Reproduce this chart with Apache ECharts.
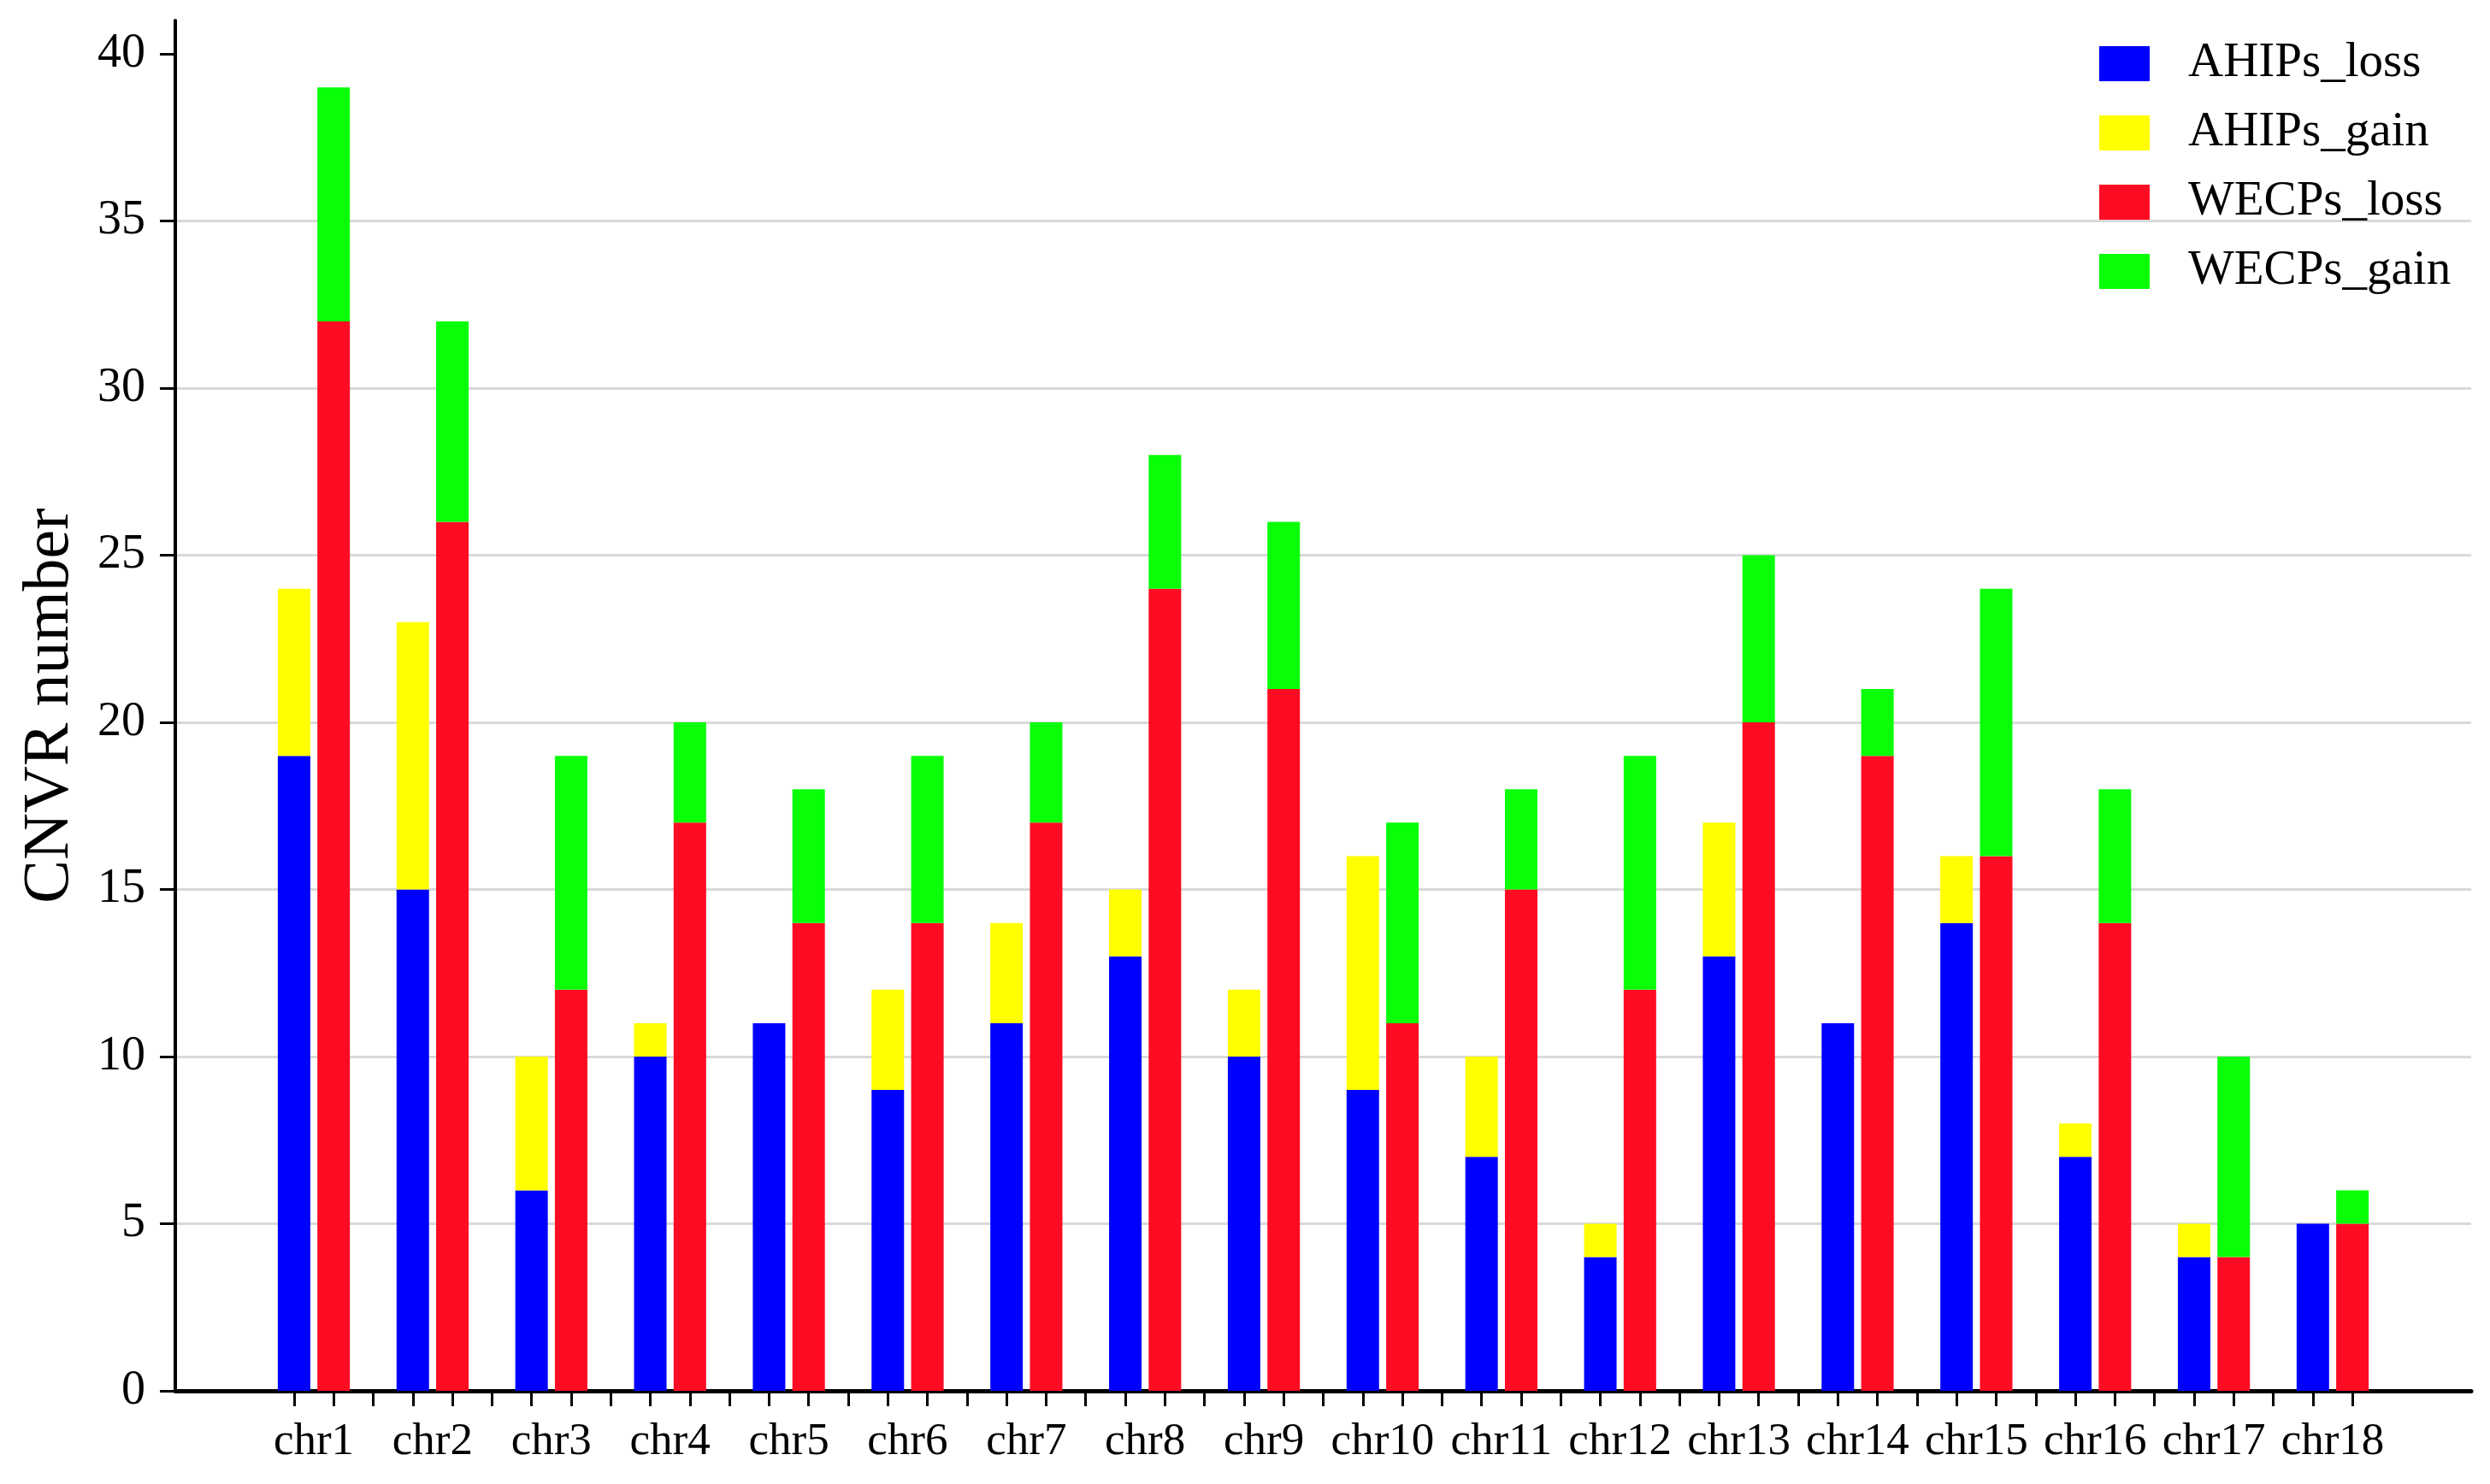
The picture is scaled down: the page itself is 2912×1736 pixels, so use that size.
<!DOCTYPE html>
<html><head><meta charset="utf-8">
<script src="https://cdn.jsdelivr.net/npm/echarts@6/dist/echarts.min.js"></script>
<style>html,body{margin:0;padding:0;background:#fff}#c{width:2912px;height:1736px}</style>
</head><body><div id="c"></div>
<script>
// ---- data ----
const categories = ['chr1','chr2','chr3','chr4','chr5','chr6','chr7','chr8','chr9','chr10','chr11','chr12','chr13','chr14','chr15','chr16','chr17','chr18'];
const ahipsLoss = [19,15,6,10,11,9,11,13,10,9,7,4,13,11,14,7,4,5];
const ahipsGain = [5,8,4,1,0,3,3,2,2,7,3,1,4,0,2,1,1,0];
const wecpsLoss = [32,26,12,17,14,14,17,24,21,11,15,12,20,19,16,14,4,5];
const wecpsGain = [7,6,7,3,4,5,3,4,5,6,3,7,5,2,8,4,6,1];
const yTicks = [0,5,10,15,20,25,30,35,40];
const seriesNames = ['AHIPs_loss','AHIPs_gain','WECPs_loss','WECPs_gain'];

// ---- layout (slot units on the x axis) ----
const FIRST = 3, STEP = 3, XMAX = 58;
const posA = i => FIRST + STEP * i;
const posW = i => FIRST + STEP * i + 1;
const FONT = 'Liberation Serif';

const tickVals = [];
for (let v = posA(0); v <= posW(categories.length - 1); v++) tickVals.push(v);
const labelVals = categories.map((c, i) => posA(i) + 0.5);

// value first so that the stack is computed on the value dimension
const mk = (arr, pos) => arr.map((v, i) => [v, pos(i)]);
const colors = ['#0000ff', '#ffff00', '#ff0b24', '#08ff08'];
const common = {
  type: 'bar', barWidth: 38, barGap: '-100%',
  dimensions: [{ name: 'v', type: 'float' }, { name: 'pos', type: 'float' }],
  encode: { x: 'pos', y: 'v' }
};

const option = {
  animation: false,
  backgroundColor: '#ffffff',
  grid: { left: 205, right: 22, top: 24, bottom: 109, containLabel: false },
  legend: {
    orient: 'vertical', left: 2450, top: 41,
    itemWidth: 59, itemHeight: 41, itemGap: 24, icon: 'rect',
    data: seriesNames,
    formatter: '{a|{name}}',
    textStyle: { rich: { a: { fontSize: 57, fontFamily: FONT, color: '#000', padding: [0, 0, 0, 40] } } }
  },
  xAxis: {
    type: 'value', min: 0, max: XMAX,
    splitLine: { show: false },
    axisLine: { show: true, lineStyle: { color: '#000', width: 5 } },
    axisTick: { show: true, customValues: tickVals, length: 18, lineStyle: { color: '#000', width: 3 } },
    axisLabel: {
      customValues: labelVals, margin: 34, fontSize: 53, fontFamily: FONT, color: '#000',
      formatter: v => categories[Math.round((v - FIRST - 0.5) / STEP)]
    }
  },
  yAxis: {
    type: 'value', min: 0, max: 41, interval: 5,
    name: 'CNVR number', nameLocation: 'middle', nameGap: 108,
    nameTextStyle: { fontSize: 76, fontFamily: FONT, color: '#000' },
    axisLine: { show: true, lineStyle: { color: '#000', width: 4 } },
    axisTick: { show: true, customValues: yTicks, length: 18, lineStyle: { color: '#000', width: 3 } },
    axisLabel: { customValues: yTicks, margin: 35, fontSize: 56, fontFamily: FONT, color: '#000' },
    splitLine: { show: true, showMaxLine: false, showMinLine: false, lineStyle: { color: '#d9d9d9', width: 3 } }
  },
  series: [
    Object.assign({ name: seriesNames[0], stack: 'A', data: mk(ahipsLoss, posA), itemStyle: { color: colors[0] } }, common),
    Object.assign({ name: seriesNames[1], stack: 'A', data: mk(ahipsGain, posA), itemStyle: { color: colors[1] } }, common),
    Object.assign({ name: seriesNames[2], stack: 'W', data: mk(wecpsLoss, posW), itemStyle: { color: colors[2] } }, common),
    Object.assign({ name: seriesNames[3], stack: 'W', data: mk(wecpsGain, posW), itemStyle: { color: colors[3] } }, common)
  ]
};
const chart = echarts.init(document.getElementById('c'));
chart.setOption(option);
</script></body></html>
